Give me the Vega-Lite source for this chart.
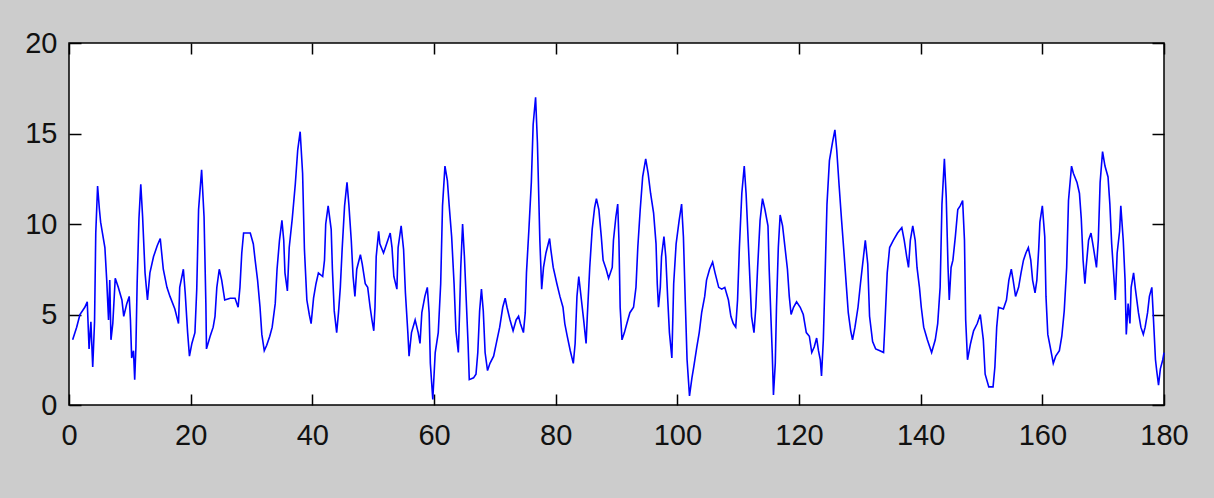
{
"$schema":"https://vega.github.io/schema/vega-lite/v6.json",
"width":1095,"height":362,
"autosize":{"type":"none"},
"padding":{"left":69,"top":43,"right":50,"bottom":93},
"background":"#cccccc",
"config":{"view":{"fill":"white","stroke":"black","strokeWidth":1.5},"axis":{"domain":false,"grid":false,"tickColor":"black","tickWidth":1.5,"labelFont":"Liberation Sans","labelFontSize":29,"labelColor":"#111111","title":null,"labelFlush":false,"labelOverlap":false}},
"data":{"values":[
{"t":0.6,"v":3.6},{"t":1.26,"v":4.3},{"t":1.8,"v":5.0},{"t":2.6,"v":5.4},{"t":3.0,"v":5.7},{"t":3.3,"v":3.1},{"t":3.6,"v":4.6},{"t":3.9,"v":2.1},{"t":4.2,"v":4.6},{"t":4.4,"v":9.5},{"t":4.7,"v":12.1},{"t":5.0,"v":10.8},{"t":5.2,"v":10.1},{"t":5.5,"v":9.5},{"t":5.9,"v":8.7},{"t":6.2,"v":6.9},{"t":6.5,"v":4.7},{"t":6.7,"v":6.9},{"t":6.9,"v":3.6},{"t":7.2,"v":4.5},{"t":7.6,"v":7.0},{"t":8.1,"v":6.5},{"t":8.7,"v":5.8},{"t":9.0,"v":4.9},{"t":9.5,"v":5.6},{"t":9.9,"v":6.0},{"t":10.1,"v":4.7},{"t":10.3,"v":2.6},{"t":10.6,"v":3.0},{"t":10.8,"v":1.4},{"t":11.0,"v":3.2},{"t":11.2,"v":6.7},{"t":11.5,"v":10.3},{"t":11.8,"v":12.2},{"t":12.1,"v":10.4},{"t":12.5,"v":7.3},{"t":12.9,"v":5.8},{"t":13.3,"v":7.3},{"t":13.9,"v":8.2},{"t":14.5,"v":8.8},{"t":15.0,"v":9.2},{"t":15.5,"v":7.5},{"t":16.1,"v":6.5},{"t":16.6,"v":6.0},{"t":17.4,"v":5.3},{"t":18.0,"v":4.5},{"t":18.2,"v":6.5},{"t":18.8,"v":7.5},{"t":19.1,"v":6.2},{"t":19.5,"v":4.0},{"t":19.8,"v":2.7},{"t":20.2,"v":3.4},{"t":20.7,"v":4.0},{"t":21.0,"v":6.4},{"t":21.3,"v":10.8},{"t":21.8,"v":13.0},{"t":22.2,"v":10.4},{"t":22.5,"v":5.6},{"t":22.6,"v":3.1},{"t":23.2,"v":3.8},{"t":23.7,"v":4.3},{"t":24.0,"v":4.9},{"t":24.3,"v":6.5},{"t":24.7,"v":7.5},{"t":25.1,"v":6.9},{"t":25.6,"v":5.8},{"t":26.5,"v":5.9},{"t":27.3,"v":5.9},{"t":27.8,"v":5.4},{"t":28.1,"v":6.5},{"t":28.4,"v":8.4},{"t":28.7,"v":9.5},{"t":29.8,"v":9.5},
{"t":30.3,"v":8.9},{"t":30.6,"v":8.0},{"t":31.0,"v":6.9},{"t":31.4,"v":5.4},{"t":31.7,"v":3.9},{"t":32.1,"v":3.0},{"t":32.5,"v":3.3},{"t":33.0,"v":3.8},{"t":33.4,"v":4.3},{"t":33.9,"v":5.6},{"t":34.2,"v":7.5},{"t":34.6,"v":9.1},{"t":35.0,"v":10.2},{"t":35.3,"v":9.1},{"t":35.5,"v":7.3},{"t":35.9,"v":6.3},{"t":36.2,"v":8.7},{"t":36.7,"v":10.3},{"t":37.2,"v":12.2},{"t":37.6,"v":14.1},{"t":38.0,"v":15.1},{"t":38.4,"v":12.8},{"t":38.7,"v":8.6},{"t":39.1,"v":5.8},{"t":39.5,"v":5.0},{"t":39.8,"v":4.5},{"t":40.2,"v":5.9},{"t":40.6,"v":6.7},{"t":41.0,"v":7.3},{"t":41.7,"v":7.1},{"t":42.0,"v":8.0},{"t":42.2,"v":10.0},{"t":42.6,"v":11.0},{"t":43.1,"v":9.7},{"t":43.3,"v":7.5},{"t":43.6,"v":5.2},{"t":44.0,"v":4.0},{"t":44.3,"v":5.1},{"t":44.6,"v":6.5},{"t":44.9,"v":8.6},{"t":45.3,"v":11.0},{"t":45.7,"v":12.3},{"t":46.0,"v":11.1},{"t":46.4,"v":9.1},{"t":46.7,"v":7.1},{"t":47.0,"v":6.0},{"t":47.3,"v":7.5},{"t":47.9,"v":8.3},{"t":48.2,"v":7.8},{"t":48.7,"v":6.7},{"t":49.1,"v":6.5},{"t":49.5,"v":5.4},{"t":49.8,"v":4.7},{"t":50.1,"v":4.1},{"t":50.3,"v":5.4},{"t":50.5,"v":8.2},{"t":50.9,"v":9.6},{"t":51.1,"v":8.9},{"t":51.7,"v":8.4},{"t":52.2,"v":8.9},{"t":52.8,"v":9.5},{"t":53.1,"v":8.7},{"t":53.4,"v":7.1},{"t":53.9,"v":6.4},{"t":54.1,"v":8.7},{"t":54.6,"v":9.9},{"t":55.0,"v":8.6},{"t":55.3,"v":6.2},{"t":55.7,"v":4.0},{"t":55.9,"v":2.7},{"t":56.3,"v":4.0},{"t":56.9,"v":4.7},{"t":57.4,"v":4.0},{"t":57.7,"v":3.4},{"t":58.0,"v":5.1},{"t":58.5,"v":6.0},{"t":58.9,"v":6.5},{"t":59.2,"v":5.1},{"t":59.4,"v":2.3},{"t":59.8,"v":0.3},
{"t":60.2,"v":2.9},{"t":60.7,"v":4.0},{"t":61.1,"v":6.7},{"t":61.4,"v":11.0},{"t":61.8,"v":13.2},{"t":62.2,"v":12.4},{"t":62.5,"v":11.0},{"t":62.9,"v":9.3},{"t":63.3,"v":6.7},{"t":63.6,"v":4.1},{"t":64.0,"v":2.9},{"t":64.2,"v":5.1},{"t":64.4,"v":7.6},{"t":64.7,"v":10.0},{"t":65.0,"v":8.2},{"t":65.3,"v":5.8},{"t":65.6,"v":3.4},{"t":65.8,"v":1.4},{"t":66.5,"v":1.5},{"t":66.9,"v":1.7},{"t":67.2,"v":2.9},{"t":67.5,"v":5.2},{"t":67.8,"v":6.4},{"t":68.1,"v":5.2},{"t":68.4,"v":2.9},{"t":68.8,"v":1.9},{"t":69.2,"v":2.3},{"t":69.8,"v":2.7},{"t":70.3,"v":3.5},{"t":70.8,"v":4.3},{"t":71.3,"v":5.4},{"t":71.7,"v":5.9},{"t":72.0,"v":5.4},{"t":72.5,"v":4.7},{"t":73.0,"v":4.1},{"t":73.5,"v":4.7},{"t":73.9,"v":4.9},{"t":74.2,"v":4.5},{"t":74.7,"v":4.0},{"t":75.0,"v":5.1},{"t":75.2,"v":7.3},{"t":75.6,"v":9.7},{"t":76.0,"v":12.3},{"t":76.3,"v":15.5},{"t":76.7,"v":17.0},{"t":77.0,"v":14.5},{"t":77.4,"v":9.1},{"t":77.7,"v":6.4},{"t":78.0,"v":7.6},{"t":78.4,"v":8.4},{"t":79.0,"v":9.2},{"t":79.2,"v":8.6},{"t":79.6,"v":7.6},{"t":80.2,"v":6.7},{"t":80.7,"v":6.0},{"t":81.2,"v":5.4},{"t":81.5,"v":4.5},{"t":81.9,"v":3.8},{"t":82.4,"v":3.0},{"t":82.9,"v":2.3},{"t":83.2,"v":3.4},{"t":83.5,"v":6.0},{"t":83.8,"v":7.1},{"t":84.1,"v":6.2},{"t":84.6,"v":4.7},{"t":85.0,"v":3.4},{"t":85.2,"v":4.9},{"t":85.6,"v":7.6},{"t":86.0,"v":9.7},{"t":86.4,"v":10.9},{"t":86.7,"v":11.4},{"t":87.1,"v":10.8},{"t":87.5,"v":9.3},{"t":87.8,"v":8.0},{"t":88.3,"v":7.5},{"t":88.7,"v":7.0},{"t":89.3,"v":7.6},{"t":89.5,"v":9.1},{"t":89.9,"v":10.4},{"t":90.2,"v":11.1},
{"t":90.4,"v":9.1},{"t":90.6,"v":5.4},{"t":90.9,"v":3.6},{"t":91.3,"v":4.0},{"t":91.7,"v":4.5},{"t":92.2,"v":5.1},{"t":92.8,"v":5.4},{"t":93.2,"v":6.5},{"t":93.5,"v":8.7},{"t":93.9,"v":10.8},{"t":94.3,"v":12.6},{"t":94.8,"v":13.6},{"t":95.2,"v":12.8},{"t":95.6,"v":11.7},{"t":96.1,"v":10.6},{"t":96.5,"v":8.9},{"t":96.7,"v":6.7},{"t":96.9,"v":5.4},{"t":97.2,"v":6.5},{"t":97.4,"v":8.2},{"t":97.8,"v":9.3},{"t":98.1,"v":8.2},{"t":98.4,"v":6.0},{"t":98.7,"v":4.0},{"t":99.1,"v":2.6},{"t":99.4,"v":6.7},{"t":99.8,"v":8.9},{"t":100.3,"v":10.2},{"t":100.7,"v":11.1},{"t":101.0,"v":9.3},{"t":101.3,"v":5.8},{"t":101.6,"v":2.5},{"t":102.0,"v":0.5},{"t":102.4,"v":1.5},{"t":102.7,"v":2.1},{"t":103.2,"v":3.2},{"t":103.6,"v":4.0},{"t":104.0,"v":5.1},{"t":104.5,"v":6.0},{"t":104.8,"v":6.9},{"t":105.3,"v":7.5},{"t":105.8,"v":7.9},{"t":106.2,"v":7.3},{"t":106.8,"v":6.5},{"t":107.3,"v":6.4},{"t":107.8,"v":6.5},{"t":108.4,"v":5.8},{"t":108.8,"v":4.9},{"t":109.2,"v":4.5},{"t":109.6,"v":4.3},{"t":109.9,"v":5.8},{"t":110.2,"v":8.7},{"t":110.6,"v":11.7},{"t":111.0,"v":13.2},{"t":111.3,"v":11.7},{"t":111.7,"v":8.7},{"t":112.0,"v":6.4},{"t":112.2,"v":4.9},{"t":112.6,"v":4.0},{"t":112.9,"v":5.4},{"t":113.2,"v":7.6},{"t":113.6,"v":10.2},{"t":114.0,"v":11.4},{"t":114.4,"v":10.8},{"t":114.9,"v":9.9},{"t":115.1,"v":7.5},{"t":115.4,"v":4.7},{"t":115.6,"v":2.9},{"t":115.8,"v":0.55},{"t":116.1,"v":2.3},{"t":116.3,"v":5.4},{"t":116.6,"v":8.7},{"t":116.9,"v":10.5},{"t":117.3,"v":9.9},{"t":117.7,"v":8.7},{"t":118.1,"v":7.5},{"t":118.4,"v":6.0},{"t":118.7,"v":5.0},{"t":119.1,"v":5.4},{"t":119.6,"v":5.7},{"t":120.2,"v":5.4},
{"t":120.7,"v":5.0},{"t":121.2,"v":4.0},{"t":121.7,"v":3.8},{"t":122.1,"v":2.9},{"t":122.5,"v":3.2},{"t":122.9,"v":3.7},{"t":123.2,"v":3.0},{"t":123.5,"v":2.5},{"t":123.7,"v":1.6},{"t":124.0,"v":3.6},{"t":124.3,"v":7.3},{"t":124.6,"v":11.1},{"t":125.0,"v":13.5},{"t":125.5,"v":14.5},{"t":125.9,"v":15.2},{"t":126.2,"v":14.1},{"t":126.6,"v":12.1},{"t":127.0,"v":10.2},{"t":127.4,"v":8.4},{"t":127.8,"v":6.5},{"t":128.1,"v":5.1},{"t":128.5,"v":4.1},{"t":128.8,"v":3.6},{"t":129.2,"v":4.3},{"t":129.7,"v":5.4},{"t":130.1,"v":6.7},{"t":130.6,"v":8.2},{"t":130.9,"v":9.1},{"t":131.3,"v":7.8},{"t":131.6,"v":4.9},{"t":132.1,"v":3.5},{"t":132.6,"v":3.1},{"t":133.3,"v":3.0},{"t":133.9,"v":2.9},{"t":134.1,"v":4.3},{"t":134.5,"v":7.3},{"t":134.9,"v":8.7},{"t":135.5,"v":9.1},{"t":136.2,"v":9.5},{"t":136.9,"v":9.8},{"t":137.3,"v":9.1},{"t":137.7,"v":8.2},{"t":138.0,"v":7.6},{"t":138.3,"v":9.1},{"t":138.7,"v":9.9},{"t":139.1,"v":9.1},{"t":139.4,"v":7.6},{"t":139.8,"v":6.5},{"t":140.1,"v":5.4},{"t":140.5,"v":4.3},{"t":141.1,"v":3.6},{"t":141.8,"v":2.9},{"t":142.4,"v":3.6},{"t":142.8,"v":4.5},{"t":143.2,"v":6.5},{"t":143.5,"v":11.1},{"t":143.9,"v":13.6},{"t":144.2,"v":11.5},{"t":144.5,"v":7.6},{"t":144.7,"v":5.8},{"t":145.0,"v":7.6},{"t":145.3,"v":8.0},{"t":145.7,"v":9.3},{"t":146.1,"v":10.8},{"t":146.5,"v":11.0},{"t":146.9,"v":11.3},{"t":147.2,"v":9.1},{"t":147.4,"v":4.7},{"t":147.7,"v":2.5},{"t":148.2,"v":3.4},{"t":148.7,"v":4.1},{"t":149.3,"v":4.5},{"t":149.8,"v":5.0},{"t":150.3,"v":3.6},{"t":150.6,"v":1.7},{"t":151.2,"v":1.0},
{"t":151.9,"v":1.0},{"t":152.2,"v":2.1},{"t":152.5,"v":4.3},{"t":152.8,"v":5.4},{"t":153.6,"v":5.3},{"t":154.1,"v":5.8},{"t":154.5,"v":6.9},{"t":154.9,"v":7.5},{"t":155.2,"v":6.9},{"t":155.6,"v":6.0},{"t":156.1,"v":6.5},{"t":156.5,"v":7.3},{"t":156.9,"v":8.0},{"t":157.3,"v":8.4},{"t":157.7,"v":8.7},{"t":158.1,"v":8.0},{"t":158.4,"v":6.9},{"t":158.8,"v":6.2},{"t":159.1,"v":6.9},{"t":159.4,"v":8.6},{"t":159.6,"v":10.1},{"t":160.0,"v":11.0},{"t":160.4,"v":9.3},{"t":160.6,"v":6.0},{"t":160.9,"v":3.9},{"t":161.3,"v":3.2},{"t":161.8,"v":2.3},{"t":162.2,"v":2.7},{"t":162.8,"v":3.0},{"t":163.2,"v":3.8},{"t":163.6,"v":5.2},{"t":164.0,"v":7.6},{"t":164.3,"v":11.3},{"t":164.8,"v":13.2},{"t":165.1,"v":12.8},{"t":165.7,"v":12.3},{"t":166.1,"v":11.7},{"t":166.4,"v":10.3},{"t":166.7,"v":8.0},{"t":167.0,"v":6.7},{"t":167.2,"v":7.6},{"t":167.6,"v":9.1},{"t":168.0,"v":9.5},{"t":168.4,"v":8.7},{"t":168.9,"v":7.6},{"t":169.2,"v":9.1},{"t":169.5,"v":12.3},{"t":169.9,"v":14.0},{"t":170.3,"v":13.2},{"t":170.8,"v":12.6},{"t":171.1,"v":11.1},{"t":171.4,"v":8.9},{"t":171.8,"v":6.9},{"t":172.0,"v":5.8},{"t":172.3,"v":8.4},{"t":172.7,"v":9.6},{"t":172.9,"v":11.0},{"t":173.3,"v":9.1},{"t":173.6,"v":6.9},{"t":173.8,"v":3.9},{"t":174.1,"v":5.6},{"t":174.4,"v":4.5},{"t":174.6,"v":6.5},{"t":175.0,"v":7.3},{"t":175.3,"v":6.4},{"t":175.8,"v":5.1},{"t":176.2,"v":4.3},{"t":176.6,"v":3.9},{"t":176.9,"v":4.3},{"t":177.3,"v":5.1},{"t":177.6,"v":6.0},{"t":178.0,"v":6.5},{"t":178.2,"v":5.2},{"t":178.6,"v":2.5},{"t":178.8,"v":1.9},{"t":179.1,"v":1.1},{"t":179.4,"v":2.0},{"t":179.8,"v":2.5},{"t":180.0,"v":2.9}
]},
"layer":[
{"mark":{"type":"line","color":"#0000ff","strokeWidth":1.6,"interpolate":"linear"},
 "encoding":{
  "x":{"field":"t","type":"quantitative","scale":{"domain":[0,180],"nice":false,"zero":false},"axis":{"orient":"bottom","values":[0,20,40,60,80,100,120,140,160,180],"tickSize":-11,"labelPadding":27}},
  "y":{"field":"v","type":"quantitative","scale":{"domain":[0,20],"nice":false},"axis":{"orient":"left","values":[0,5,10,15,20],"tickSize":-12,"labelPadding":24}}
 }},
{"mark":{"type":"line","opacity":0},
 "encoding":{
  "x":{"field":"t","type":"quantitative","axis":{"orient":"top","values":[0,20,40,60,80,100,120,140,160,180],"tickSize":-11,"labels":false}},
  "y":{"field":"v","type":"quantitative","axis":{"orient":"right","values":[0,5,10,15,20],"tickSize":-12,"labels":false}}
 }}
],
"resolve":{"axis":{"x":"independent","y":"independent"}}
}
